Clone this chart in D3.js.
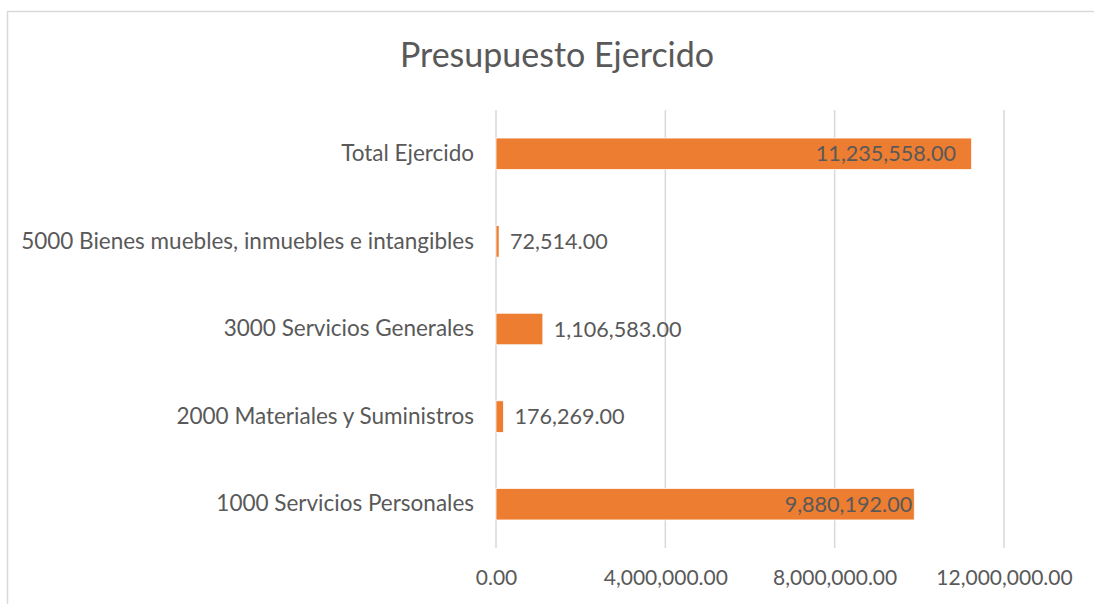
<!DOCTYPE html>
<html>
<head>
<meta charset="utf-8">
<script src="https://cdn.jsdelivr.net/npm/d3@7"></script>
<style>
  body { margin: 0; background: #fff; }
  text { font-family: Lato, "Open Sans", sans-serif; fill: #595959; }
</style>
</head>
<body>
<div id="chart"></div>
<script>
// Chart data
var categories = [
  "Total Ejercido",
  "5000 Bienes muebles, inmuebles e intangibles",
  "3000 Servicios Generales",
  "2000 Materiales y Suministros",
  "1000 Servicios Personales"
]
var values = [11235558, 72514, 1106583, 176269, 9880192]
var tickValues = [0, 4000000, 8000000, 12000000]
var title = "Presupuesto Ejercido"

var width = 1094
var height = 604

// plot area
var plotLeft = 496, plotRight = 1004, plotTop = 110, plotBottom = 548

var svg = d3.select("#chart").append("svg")
    .attr("width", width)
    .attr("height", height)

// chart border (only top and left edges fall inside the picture)
svg.append("rect")
    .attr("x", 7.5).attr("y", 11.5)
    .attr("width", 1200).attr("height", 800)
    .attr("fill", "none")
    .attr("stroke", "#d9d9d9")
    .attr("stroke-width", 1.5)

var x = d3.scaleLinear()
    .domain([0, 12000000])
    .range([plotLeft, plotRight])

var y = d3.scaleBand()
    .domain(categories)
    .range([plotTop, plotBottom])
    .paddingInner(0.64)
    .paddingOuter(0.32)

var fmt = d3.format(",.2f")

// title
svg.append("text")
    .attr("x", 557)
    .attr("y", 67)
    .attr("text-anchor", "middle")
    .style("font-size", "34px")
    .text(title)

// vertical gridlines
svg.append("g")
    .selectAll("line")
    .data(tickValues)
    .enter().append("line")
    .attr("x1", d => x(d)).attr("x2", d => x(d))
    .attr("y1", plotTop).attr("y2", plotBottom)
    .attr("stroke", "#d9d9d9")
    .attr("stroke-width", 1.5)

// x axis labels
var xAxis = d3.axisBottom(x)
    .tickValues(tickValues)
    .tickFormat(fmt)
    .tickSize(0)
    .tickPadding(0)

var gx = svg.append("g")
    .attr("transform", "translate(0," + (plotBottom + 22) + ")")
    .call(xAxis)
gx.select(".domain").remove()
gx.selectAll("text")
    .attr("dy", "0.71em")
    .style("font-size", "21px")
    .style("font-family", null)
    .attr("fill", null)

// y axis labels
var yAxis = d3.axisLeft(y).tickSize(0).tickPadding(22)
var gy = svg.append("g")
    .attr("transform", "translate(" + plotLeft + ",0)")
    .call(yAxis)
gy.select(".domain").remove()
gy.selectAll("text")
    .style("font-size", "22.5px")
    .style("font-family", null)
    .attr("fill", null)

// bars
svg.append("g")
    .selectAll("rect")
    .data(values)
    .enter().append("rect")
    .attr("x", x(0))
    .attr("y", (d, i) => y(categories[i]))
    .attr("width", d => x(d) - x(0))
    .attr("height", y.bandwidth())
    .attr("fill", "#ED7D31")
    .attr("stroke", "#fff")
    .attr("stroke-width", 0.75)

// data labels: outside end, pushed inside when they run out of room
var labelLimit = 956
svg.append("g")
    .selectAll("text")
    .data(values)
    .enter().append("text")
    .attr("y", (d, i) => y(categories[i]) + y.bandwidth() / 2)
    .attr("dy", "0.35em")
    .style("font-size", "21.6px")
    .each(function (d) {
        var t = d3.select(this).text(fmt(d))
        if (d > 8000000) {
            t.attr("x", Math.min(x(d) - 2, labelLimit)).attr("text-anchor", "end")
        } else {
            t.attr("x", x(d) + 11).attr("text-anchor", "start")
        }
    })
</script>
</body>
</html>
